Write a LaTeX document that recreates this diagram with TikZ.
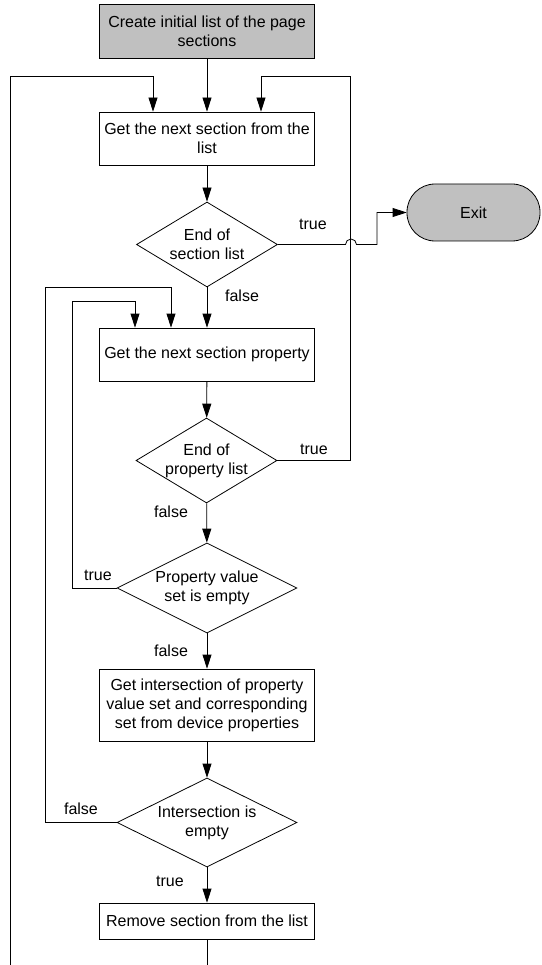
\documentclass[tikz,border=0pt]{standalone}
\usepackage{fontspec}
\setmainfont{Liberation Sans}
\usetikzlibrary{shapes.geometric,arrows.meta}
\definecolor{boxgray}{RGB}{192,192,192}
\begin{document}
\begin{tikzpicture}[x=1pt,y=-1pt,line width=0.8pt,
    every node/.style={font=\fontsize{16}{19}\selectfont,align=center,inner sep=0pt},
    stepbox/.style={draw,rectangle,minimum width=215pt},
    testbox/.style={draw,diamond,aspect=1.67,minimum width=141pt,minimum height=85pt},
    widetest/.style={draw,diamond,aspect=2,minimum width=180pt,minimum height=90pt}]
      \useasboundingbox (0,0) rectangle (541,965);
      \draw
        (207,31) node[stepbox,fill=boxgray,minimum height=54pt] (start){Create initial list of the page\\sections}
        (207,138.5) node[stepbox,minimum height=53pt] (getsec){Get the next section from the\\list}
        (207,244.5) node[testbox] (endsec){End of\\section list}
        (473.5,212.5) node[draw,rectangle,rounded corners=28pt,fill=boxgray,minimum width=133pt,minimum height=57pt] (exit){Exit}
        (207,354.5) node[stepbox,minimum height=53pt] (getprop){Get the next section property}
        (206.5,460.5) node[testbox] (endprop){End of\\property list}
        (207,588) node[widetest] (valempty){Property value\\set is empty}
        (207,705) node[stepbox,minimum height=72pt] (inters){Get intersection of property\\value set and corresponding\\set from device properties}
        (207,822.5) node[widetest,minimum height=89pt] (intempty){Intersection is\\empty}
        (207,921) node[stepbox,minimum height=36pt] (remove){Remove section from the list};
      \draw
        (313,224) node (t1){true}
        (242,296) node (f1){false}
        (314,449) node (t2){true}
        (171,512) node (f2){false}
        (98,575) node (t3){true}
        (171,651) node (f3){false}
        (81,809) node (f4){false}
        (170,881) node (t4){true};
      \begin{scope}[-{Triangle[length=14pt,width=9pt]}]
        \draw (start) to (getsec);
        \draw (getsec) to (endsec);
        \draw (endsec) to (getprop);
        \draw (getprop) to (endprop);
        \draw (endprop) to (valempty);
        \draw (valempty) to (inters);
        \draw (inters) to (intempty);
        \draw (intempty) to (remove);
        \draw (remove.south) -- ++(0,60) -| (10,76) -| ([xshift=-54pt]getsec.north);
        \draw (endprop.east) -| (350,76) -| ([xshift=54pt]getsec.north);
        \draw (intempty.west) -| (45,287) -| ([xshift=-36pt]getprop.north);
        \draw (valempty.west) -| (72,301) -| ([xshift=-72pt]getprop.north);
        \draw (endsec.east) -- (345.5,244.5) arc[start angle=180,end angle=0,radius=5.5pt] -- (377,244.5) |- (exit.west);
      \end{scope}
    \end{tikzpicture}
\end{document}
